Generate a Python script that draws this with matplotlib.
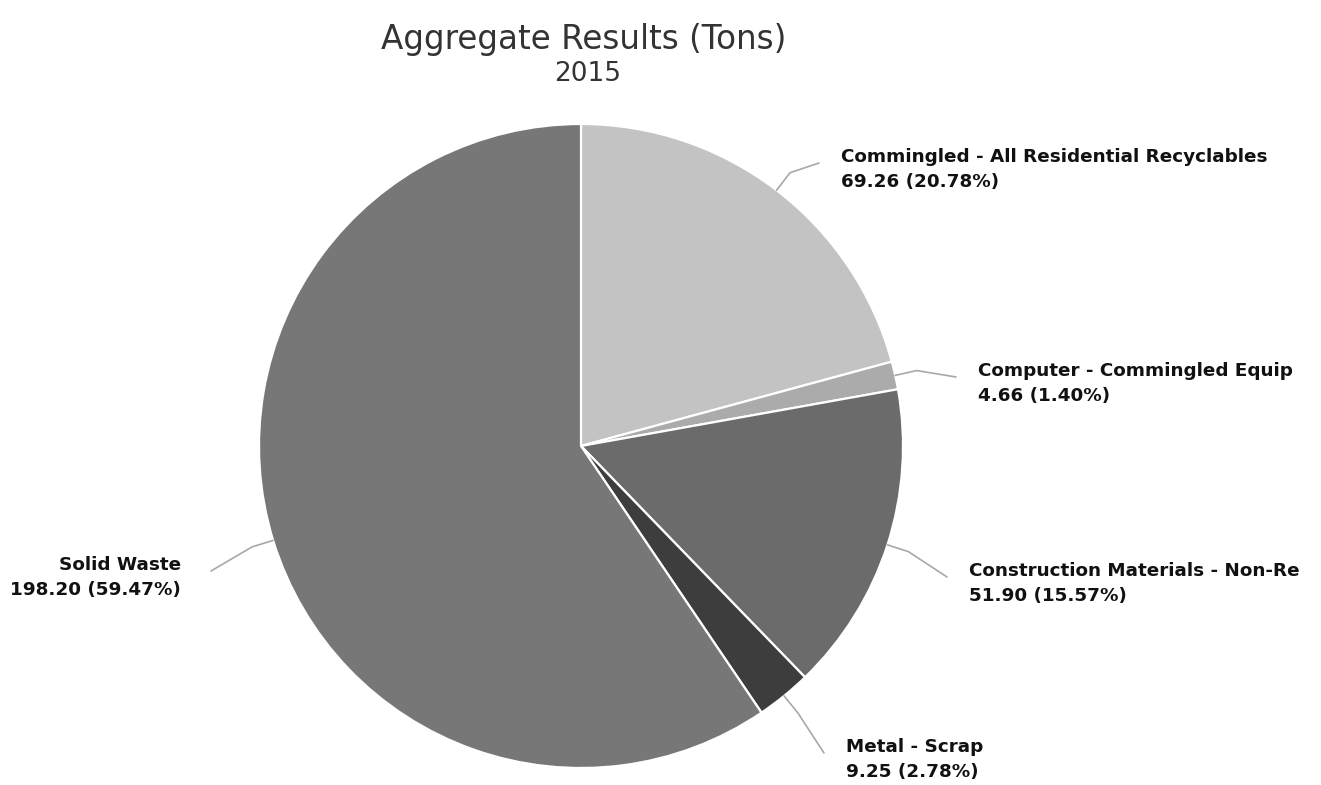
import numpy as np
import matplotlib
matplotlib.use('Agg')
import matplotlib.pyplot as plt

# данные со скриншота
labels = ['Commingled - All Residential Recyclables', 'Computer - Commingled Equip',
          'Construction Materials - Non-Re', 'Metal - Scrap', 'Solid Waste']
tons = [69.26, 4.66, 51.90, 9.25, 198.20]
percents = [20.78, 1.40, 15.57, 2.78, 59.47]
colors = ['#c3c3c3', '#ababab', '#6b6b6b', '#3d3d3d', '#777777']

W, H = 1321, 785
fig = plt.figure(figsize=(W / 100, H / 100), dpi=100)
ax = fig.add_axes([0, 0, 1, 1])

cx, cy, r = 581, H - 446, 322
wedges, _ = ax.pie(tons, colors=colors, startangle=90, counterclock=False,
                   center=(cx, cy), radius=r,
                   wedgeprops=dict(edgecolor='white', linewidth=1.6))
ax.set_xlim(0, W)
ax.set_ylim(0, H)
ax.set_aspect('equal')
ax.axis('off')

# позиции подписей (x текста, y первой строки в пикселях сверху, выравнивание)
label_pos = [(841, 157, 'left'), (978, 371, 'left'), (969, 571, 'left'),
             (846, 747, 'left'), (181, 565, 'right')]

for w, lab, t, p, (tx, ty, ha) in zip(wedges, labels, tons, percents, label_pos):
    ang = np.deg2rad((w.theta1 + w.theta2) / 2)
    x0 = cx + r * np.cos(ang)
    y0 = cy + r * np.sin(ang)
    x1 = cx + (r + 22) * np.cos(ang)
    y1 = cy + (r + 22) * np.sin(ang)
    yl = H - ty - 6
    xe = tx - 22 if ha == 'left' else tx + 30
    ax.plot([x0, x1, xe], [y0, y1, yl], color='#a8a8a8', lw=1.2,
            solid_capstyle='round', zorder=1)
    ax.text(tx, H - ty, lab, ha=ha, va='center', fontsize=13.2, fontweight='bold',
            color='#111111')
    ax.text(tx, H - ty - 25, f'{t:.2f} ({p:.2f}%)', ha=ha, va='center', fontsize=13.2,
            fontweight='bold', color='#111111')

fig.text(584 / W, 1 - 40 / H, 'Aggregate Results (Tons)', ha='center', va='center',
         fontsize=23.5, color='#333333')
fig.text(588 / W, 1 - 74 / H, '2015', ha='center', va='center', fontsize=19,
         color='#333333')

fig.savefig('out.png', dpi=100, facecolor='white')
